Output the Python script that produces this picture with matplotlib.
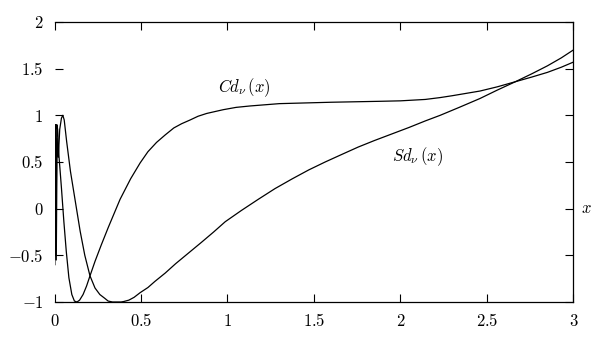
import matplotlib
matplotlib.use("Agg")
import matplotlib.pyplot as plt
import numpy as np

plt.rcParams["mathtext.fontset"] = "cm"
plt.rcParams["font.family"] = "DejaVu Serif"

# Sd_nu(x)
sd_x = [0.002, 0.006, 0.010, 0.015, 0.022, 0.030, 0.040, 0.048, 0.056, 0.070,
        0.092, 0.120, 0.148, 0.175, 0.205, 0.234, 0.262, 0.290, 0.310, 0.335,
        0.360, 0.385, 0.400, 0.430, 0.460, 0.495, 0.540, 0.580, 0.640, 0.700,
        0.775, 0.850, 0.920, 0.987, 1.080, 1.178, 1.275, 1.375, 1.470, 1.565,
        1.660, 1.756, 1.850, 1.950, 2.050, 2.144, 2.230, 2.340, 2.460, 2.560,
        2.665, 2.760, 2.850, 2.930, 3.000]
sd_y = [-0.60, 0.90, -0.55, 0.75, 0.55, 0.85, 0.97, 1.00, 0.95, 0.72,
        0.40, 0.08, -0.24, -0.50, -0.72, -0.85, -0.92, -0.96, -0.99, -1.00,
        -1.00, -1.00, -0.995, -0.98, -0.95, -0.90, -0.845, -0.78, -0.69, -0.59,
        -0.475, -0.36, -0.25, -0.14, -0.02, 0.10, 0.215, 0.32, 0.415, 0.50,
        0.58, 0.66, 0.73, 0.80, 0.87, 0.94, 1.00, 1.085, 1.18, 1.27,
        1.36, 1.445, 1.53, 1.615, 1.70]

# Cd_nu(x)
cd_x = [0.004, 0.008, 0.013, 0.018, 0.025, 0.040, 0.054, 0.068, 0.083, 0.100,
        0.115, 0.130, 0.145, 0.165, 0.185, 0.205, 0.234, 0.270, 0.311, 0.345,
        0.379, 0.440, 0.495, 0.540, 0.590, 0.640, 0.690, 0.735, 0.784, 0.830,
        0.880, 0.975, 1.050, 1.130, 1.300, 1.600, 1.880, 2.000, 2.144, 2.230,
        2.300, 2.460, 2.560, 2.665, 2.760, 2.850, 2.930, 3.000]
cd_y = [0.90, -0.50, 0.90, 0.85, 0.58, 0.22, -0.14, -0.46, -0.74, -0.92,
        -0.99, -1.00, -0.98, -0.92, -0.83, -0.72, -0.565, -0.39, -0.20, -0.05,
        0.10, 0.32, 0.49, 0.61, 0.71, 0.79, 0.865, 0.91, 0.95, 0.99,
        1.02, 1.06, 1.085, 1.10, 1.125, 1.14, 1.15, 1.155, 1.17, 1.19,
        1.21, 1.26, 1.305, 1.36, 1.41, 1.46, 1.515, 1.57]

x_ticks = [0, 0.5, 1, 1.5, 2, 2.5, 3]
y_ticks = [-1, -0.5, 0, 0.5, 1, 1.5, 2]

fig = plt.figure(figsize=(5.96, 3.47), dpi=100)
ax = fig.add_axes([0.0915, 0.1297, 0.8705, 0.807])

ax.plot(sd_x, sd_y, color="black", lw=0.9)
ax.plot(cd_x, cd_y, color="black", lw=0.9)

ax.set_xlim(0, 3)
ax.set_ylim(-1, 2)

ax.set_xticks(x_ticks)
ax.set_xticklabels([r"$%g$" % t for t in x_ticks])
ax.set_yticks(y_ticks)
ax.set_yticklabels([r"$%g$" % t for t in y_ticks])

ax.tick_params(direction="in", length=6, width=0.8, top=True, right=True,
               labelsize=12, pad=8)
ax.spines["left"].set_visible(False)
for s in ["top", "right", "bottom"]:
    ax.spines[s].set_linewidth(0.9)

ax.text(1.10, 1.30, r"$Cd_{\nu}\,(x)$", fontsize=12, ha="center", va="center")
ax.text(2.10, 0.56, r"$Sd_{\nu}\,(x)$", fontsize=12, ha="center", va="center")
ax.text(1.025, 0.333, r"$x$", fontsize=12, transform=ax.transAxes,
        ha="center", va="center")

fig.savefig("out.png", dpi=100)
